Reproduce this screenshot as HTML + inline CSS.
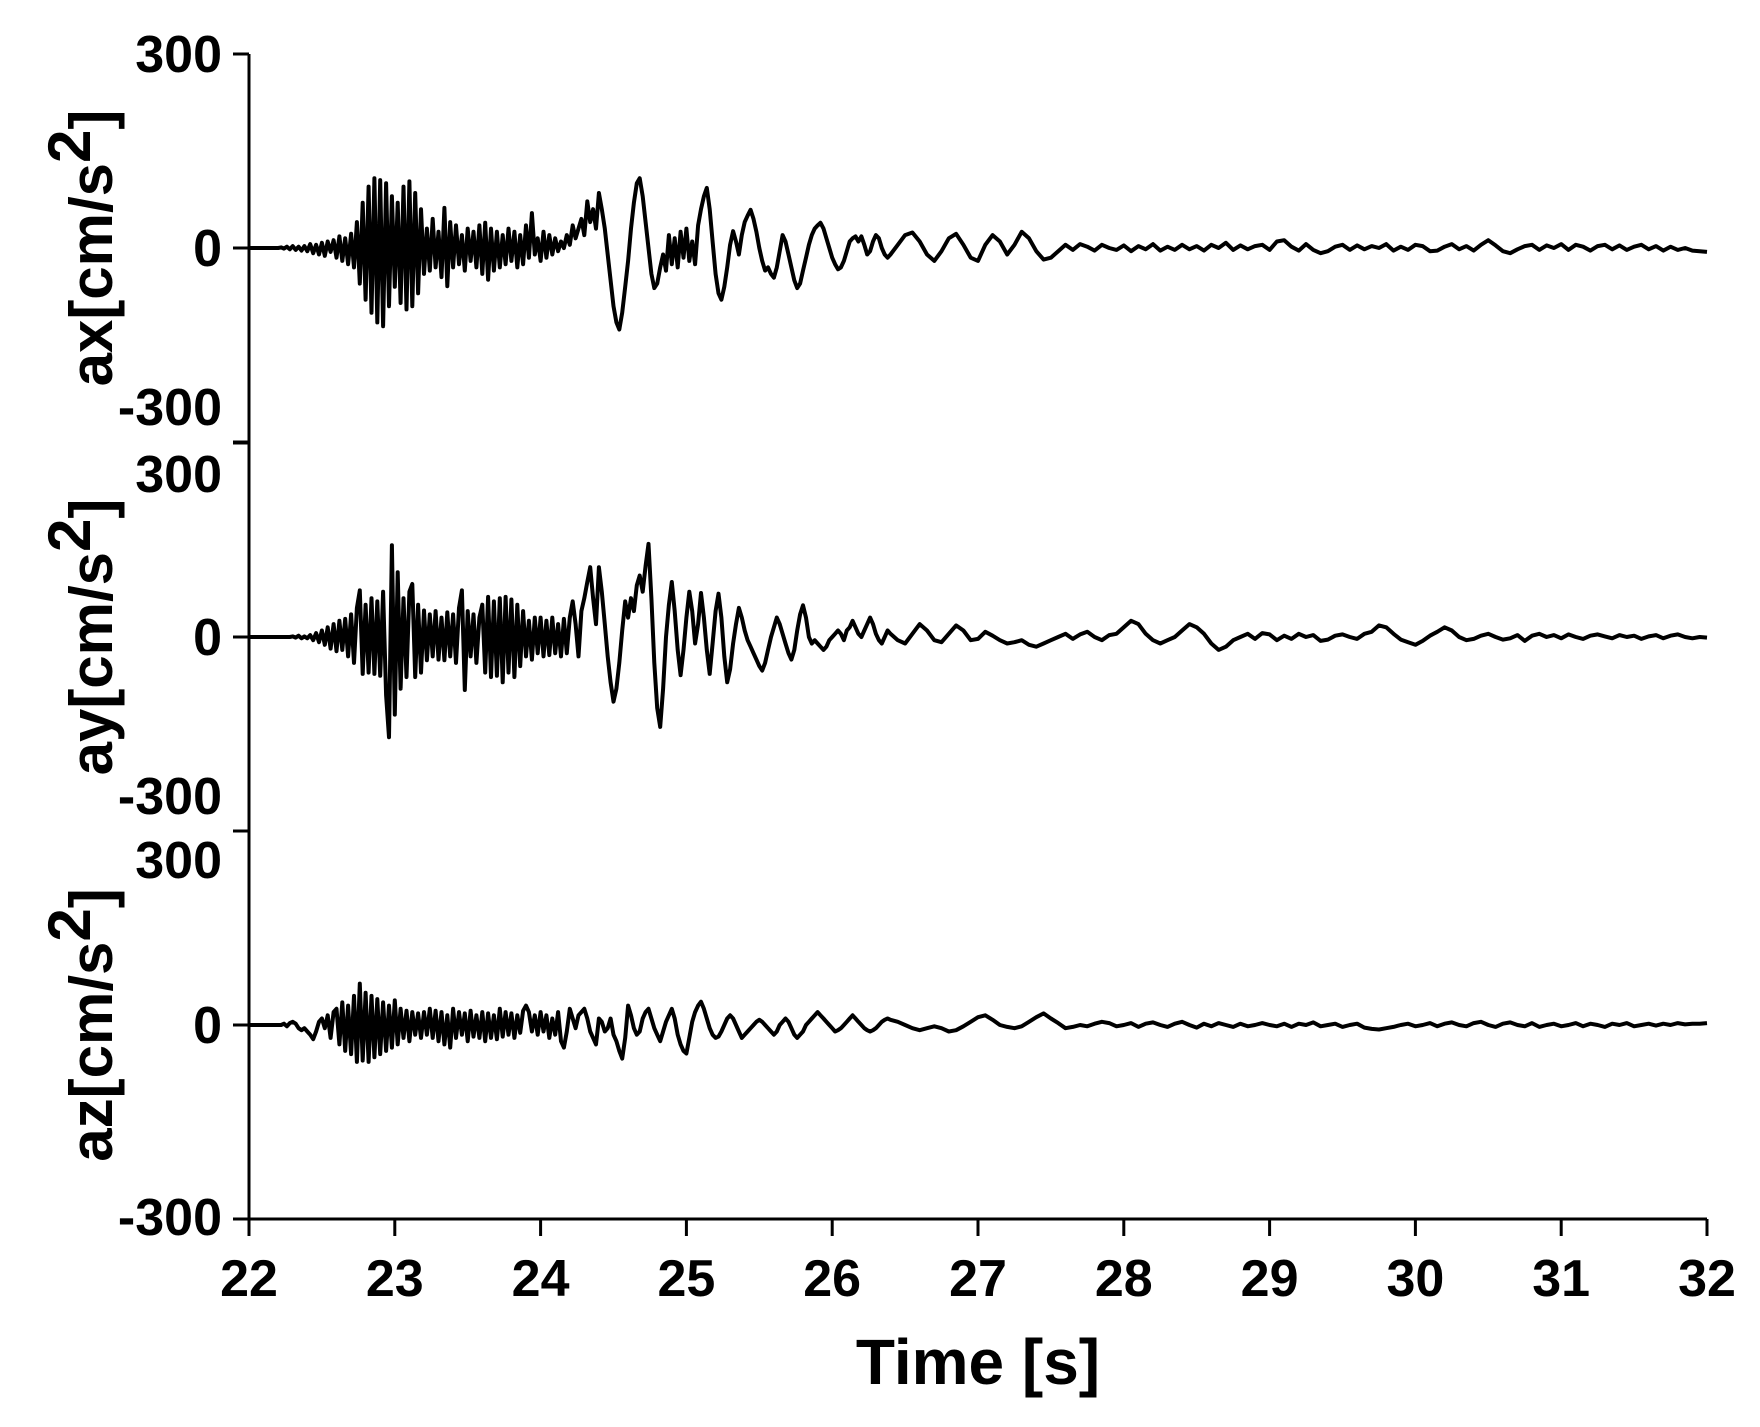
<!DOCTYPE html>
<html><head><meta charset="utf-8"><style>
html,body{margin:0;padding:0;background:#fff;}
svg{display:block;font-family:"Liberation Sans",Arial,sans-serif;font-weight:bold;}
</style></head><body>
<svg id="chart" width="1760" height="1427" viewBox="0 0 1760 1427" xmlns="http://www.w3.org/2000/svg">
<g id="axes"></g>
<g id="traces"></g>
<text x="978" y="1384" font-size="64" text-anchor="middle">Time [s]</text>
<text font-size="60" text-anchor="middle" transform="translate(112,248) rotate(-90)">ax[cm/s<tspan dy="-22">2</tspan><tspan dy="22">]</tspan></text>
<text font-size="60" text-anchor="middle" transform="translate(112,637) rotate(-90)">ay[cm/s<tspan dy="-22">2</tspan><tspan dy="22">]</tspan></text>
<text font-size="60" text-anchor="middle" transform="translate(112,1025) rotate(-90)">az[cm/s<tspan dy="-22">2</tspan><tspan dy="22">]</tspan></text>
</svg>
<script>
const xTicks = [22,23,24,25,26,27,28,29,30,31,32];
const yTickValues = [300,0,-300];
const panelNames = ["ax","ay","az"];
// dense segment: 22.00 .. 26.40 step 0.02 ; tail: 26.45 .. 32.00 step 0.05
const axDense = [0,0,0,0,0,0,0,0,0,0, 0,1,-1,2,-2,3,-3,2,-4,3, -5,6,-8,5,-10,8,-12,10,-6,12, -15,18,-20,15,-25,22,-30,40,-55,70, -80,95,-100,108,-115,105,-121,100,-90,80, -60,70,-85,95,-95,103,-90,85,-70,60, -40,30,-35,45,-30,25,-45,62,-59,40, -30,35,-25,20,-35,30,-20,25,-30,35, -40,39,-49,30,-35,25,-30,20,-25,30, -20,25,-30,20,-25,35,-15,54,-10,15, -20,25,-15,20,-10,15,-5,10,0,20, 5,35,15,30,45,20,72,40,60,30, 85,60,30,-10,-50,-90,-115,-126,-100,-60, -20,30,70,100,108,80,40,0,-40,-62, -55,-30,-10,-35,20,-25,15,-30,25,-15, 30,-20,10,-25,35,60,80,93,60,10, -40,-70,-80,-60,-30,5,26,10,-10,20, 40,50,59,45,25,0,-20,-35,-30,-40, -46,-30,-5,20,10,-10,-30,-50,-62,-55, -35,-15,5,20,30,35,39,30,15,0, -15,-25,-33,-30,-20,-5,10,15,18,10, 18,5,-10,-5,10,20,15,0,-10,-15, -10];
const axTail = [5,20,24,10,-10,-20,-5,15,22,5, -15,-20,5,20,10,-10,5,25,15,-5, -18,-15,-5,5,-3,6,2,-4,5,0, -3,4,-5,3,-2,6,-4,2,-3,5, -2,3,-4,5,0,8,-3,4,-2,3, 5,-3,10,12,2,-4,6,-3,-8,-5, 2,5,-3,4,-2,3,0,6,-4,2, -3,5,3,-5,-4,2,6,-2,3,-4, 5,12,4,-5,-8,-2,3,5,-3,4, 0,6,-3,5,2,-4,3,5,-2,4, -3,2,5,-2,3,-4,2,-3,0,-4, -5,-6];
const ayDense = [0,0,0,0,0,0,0,0,0,0, 0,0,0,0,0,1,-1,2,-2,1, -2,3,-5,6,-8,10,-12,15,-18,20, -22,25,-20,28,-30,35,-40,45,72,-57, 50,-55,60,-57,55,-60,70,-90,-155,142, -120,100,-80,60,-62,70,82,-62,50,-55, 41,-36,35,-30,40,-35,30,-36,38,-30, 35,-40,45,72,-82,40,-30,35,-40,30, 50,-55,62,-62,55,-60,60,-70,62,-55, 58,-62,50,-45,40,-30,25,-35,30,-25, 30,-30,25,-28,30,-25,20,-30,28,-25, 30,55,20,-30,40,60,85,108,60,20, 108,70,20,-30,-70,-100,-80,-40,10,55, 30,60,40,80,95,70,110,144,60,-40, -110,-139,-80,0,50,85,40,-20,-59,-20, 30,70,40,-10,20,68,30,-20,-57,-10, 40,67,30,-30,-70,-50,-10,20,45,30, 10,-5,-15,-25,-35,-45,-52,-40,-20,0, 15,30,20,5,-10,-25,-35,-20,10,35, 49,30,0,-10,-5,-10,-15,-20,-15,-5, 0,5,10,5,-5,10,15,25,15,5, 0,10,20,30,20,5,-5,-10,0,10, 5];
const ayTail = [-5,-10,5,20,10,-5,-8,5,18,10, -5,-3,8,2,-5,-10,-8,-5,-12,-15, -10,-5,0,5,-3,4,8,0,-5,3, 5,15,25,20,5,-5,-10,-5,0,10, 20,15,5,-10,-20,-15,-5,0,5,-3, 6,4,-5,2,-3,5,0,3,-6,-4, 2,4,0,-3,5,8,18,15,5,-4, -8,-12,-6,2,8,15,10,0,-5,-3, 2,5,0,-4,-2,3,-6,2,5,0, 3,-2,4,0,-3,2,4,1,-2,3, 0,2,-3,1,3,-2,2,4,0,-2, 0,-1];
const azDense = [0,0,0,0,0,0,0,0,0,0, 0,0,2,-2,3,5,2,-5,-8,-5, -10,-15,-22,-10,5,10,-5,15,-20,20, 25,-30,35,-40,30,-45,45,-57,64,-55, 50,-57,45,-50,40,-45,35,-40,30,-35, 38,-30,25,-20,22,-25,20,-15,18,-20, 20,-15,25,-20,22,-25,20,-30,15,-35, 25,-20,20,-15,18,-25,22,-18,15,-20, 20,-25,18,-20,15,-22,25,-18,20,-15, 18,-20,15,-12,22,30,20,-10,15,-15, 20,-10,15,-20,10,-15,20,-25,-35,-10, 25,10,-5,15,20,25,10,-10,-20,-30, 10,5,-10,-5,10,-15,-25,-40,-52,-20, 30,15,-5,-15,-10,10,20,25,10,-5, -15,-25,-10,5,15,25,10,-15,-30,-40, -44,-20,5,20,30,36,25,10,-5,-15, -20,-18,-10,0,10,15,10,0,-10,-20, -15,-10,-5,0,5,8,5,0,-5,-10, -15,-10,0,5,10,5,-5,-15,-20,-15, -10,0,5,10,15,20,15,10,5,0, -5,-10,-8,-5,0,5,10,15,10,5, 0,-5,-8,-10,-8,-5,0,5,8,10, 8];
const azTail = [5,0,-5,-8,-5,-2,-5,-10,-8,-2, 5,12,15,8,0,-3,-5,-2,5,12, 18,10,3,-5,-3,0,-2,2,5,3, -2,0,3,-3,2,4,0,-3,2,5, 0,-4,2,-2,3,0,-3,2,-2,0, 3,0,-2,2,-3,2,0,4,-2,0, 2,-3,0,2,-4,-6,-7,-5,-3,0, 2,-2,0,3,-2,2,4,0,-2,3, 5,0,-3,2,4,0,-2,3,-3,0, 2,-2,0,3,-2,2,0,-3,2,0, 3,-2,0,2,-1,2,0,3,1,2, 2,3];

const NS = "http://www.w3.org/2000/svg";
const X0 = 249, X1 = 1707, T0 = 22, T1 = 32;
const zeros = [248, 637, 1025];
const halfH = 194;
function xScale(t){ return X0 + (t - T0) * (X1 - X0) / (T1 - T0); }
function yScale(v, p){ return zeros[p] - v * halfH / 300; }
function mk(tag, attrs){ const e = document.createElementNS(NS, tag); for (const k in attrs) e.setAttribute(k, attrs[k]); return e; }

const axes = document.getElementById('axes');
const yAxis = mk('line', {x1:X0, y1:54, x2:X0, y2:1219, stroke:'#000', 'stroke-width':3});


axes.appendChild(yAxis);
const xAxis = mk('line', {x1:X0-16, y1:1219, x2:X1, y2:1219, stroke:'#000', 'stroke-width':3});


axes.appendChild(xAxis);

const labelOffsets = [[0,0,-35],[31,0,-35],[29,0,-2]];
for (let p = 0; p < 3; p++) {
  yTickValues.forEach((v, i) => {
    const y = yScale(v, p);
    const tk = mk('line', {x1:X0-16, y1:y, x2:X0, y2:y, stroke:'#000', 'stroke-width':3});
    
    
    axes.appendChild(tk);
    const off = (i === 0 && p === 0) ? 0 : labelOffsets[p][i];
    const lb = mk('text', {x:222, y:y + off + 18, 'font-size':52, 'text-anchor':'end'});
    lb.textContent = String(v);
    
    
    axes.appendChild(lb);
  });
}
xTicks.forEach(t => {
  const x = xScale(t);
  const tk = mk('line', {x1:x, y1:1219, x2:x, y2:1236, stroke:'#000', 'stroke-width':3});
  
  
  axes.appendChild(tk);
  const lb = mk('text', {x:x, y:1296, 'font-size':52, 'text-anchor':'middle'});
  lb.textContent = String(t);
  
  
  axes.appendChild(lb);
});

const traces = document.getElementById('traces');
const series = [[axDense, axTail],[ayDense, ayTail],[azDense, azTail]];
series.forEach((s, p) => {
  const pts = [];
  s[0].forEach((v, i) => pts.push(xScale(22 + i * 0.02).toFixed(1) + ',' + yScale(v, p).toFixed(1)));
  s[1].forEach((v, i) => pts.push(xScale(26.45 + i * 0.05).toFixed(1) + ',' + yScale(v, p).toFixed(1)));
  const pl = mk('polyline', {points:pts.join(' '), fill:'none', stroke:'#000', 'stroke-width':4, 'stroke-linejoin':'round'});
  
  
  traces.appendChild(pl);
});
</script>
</body></html>
